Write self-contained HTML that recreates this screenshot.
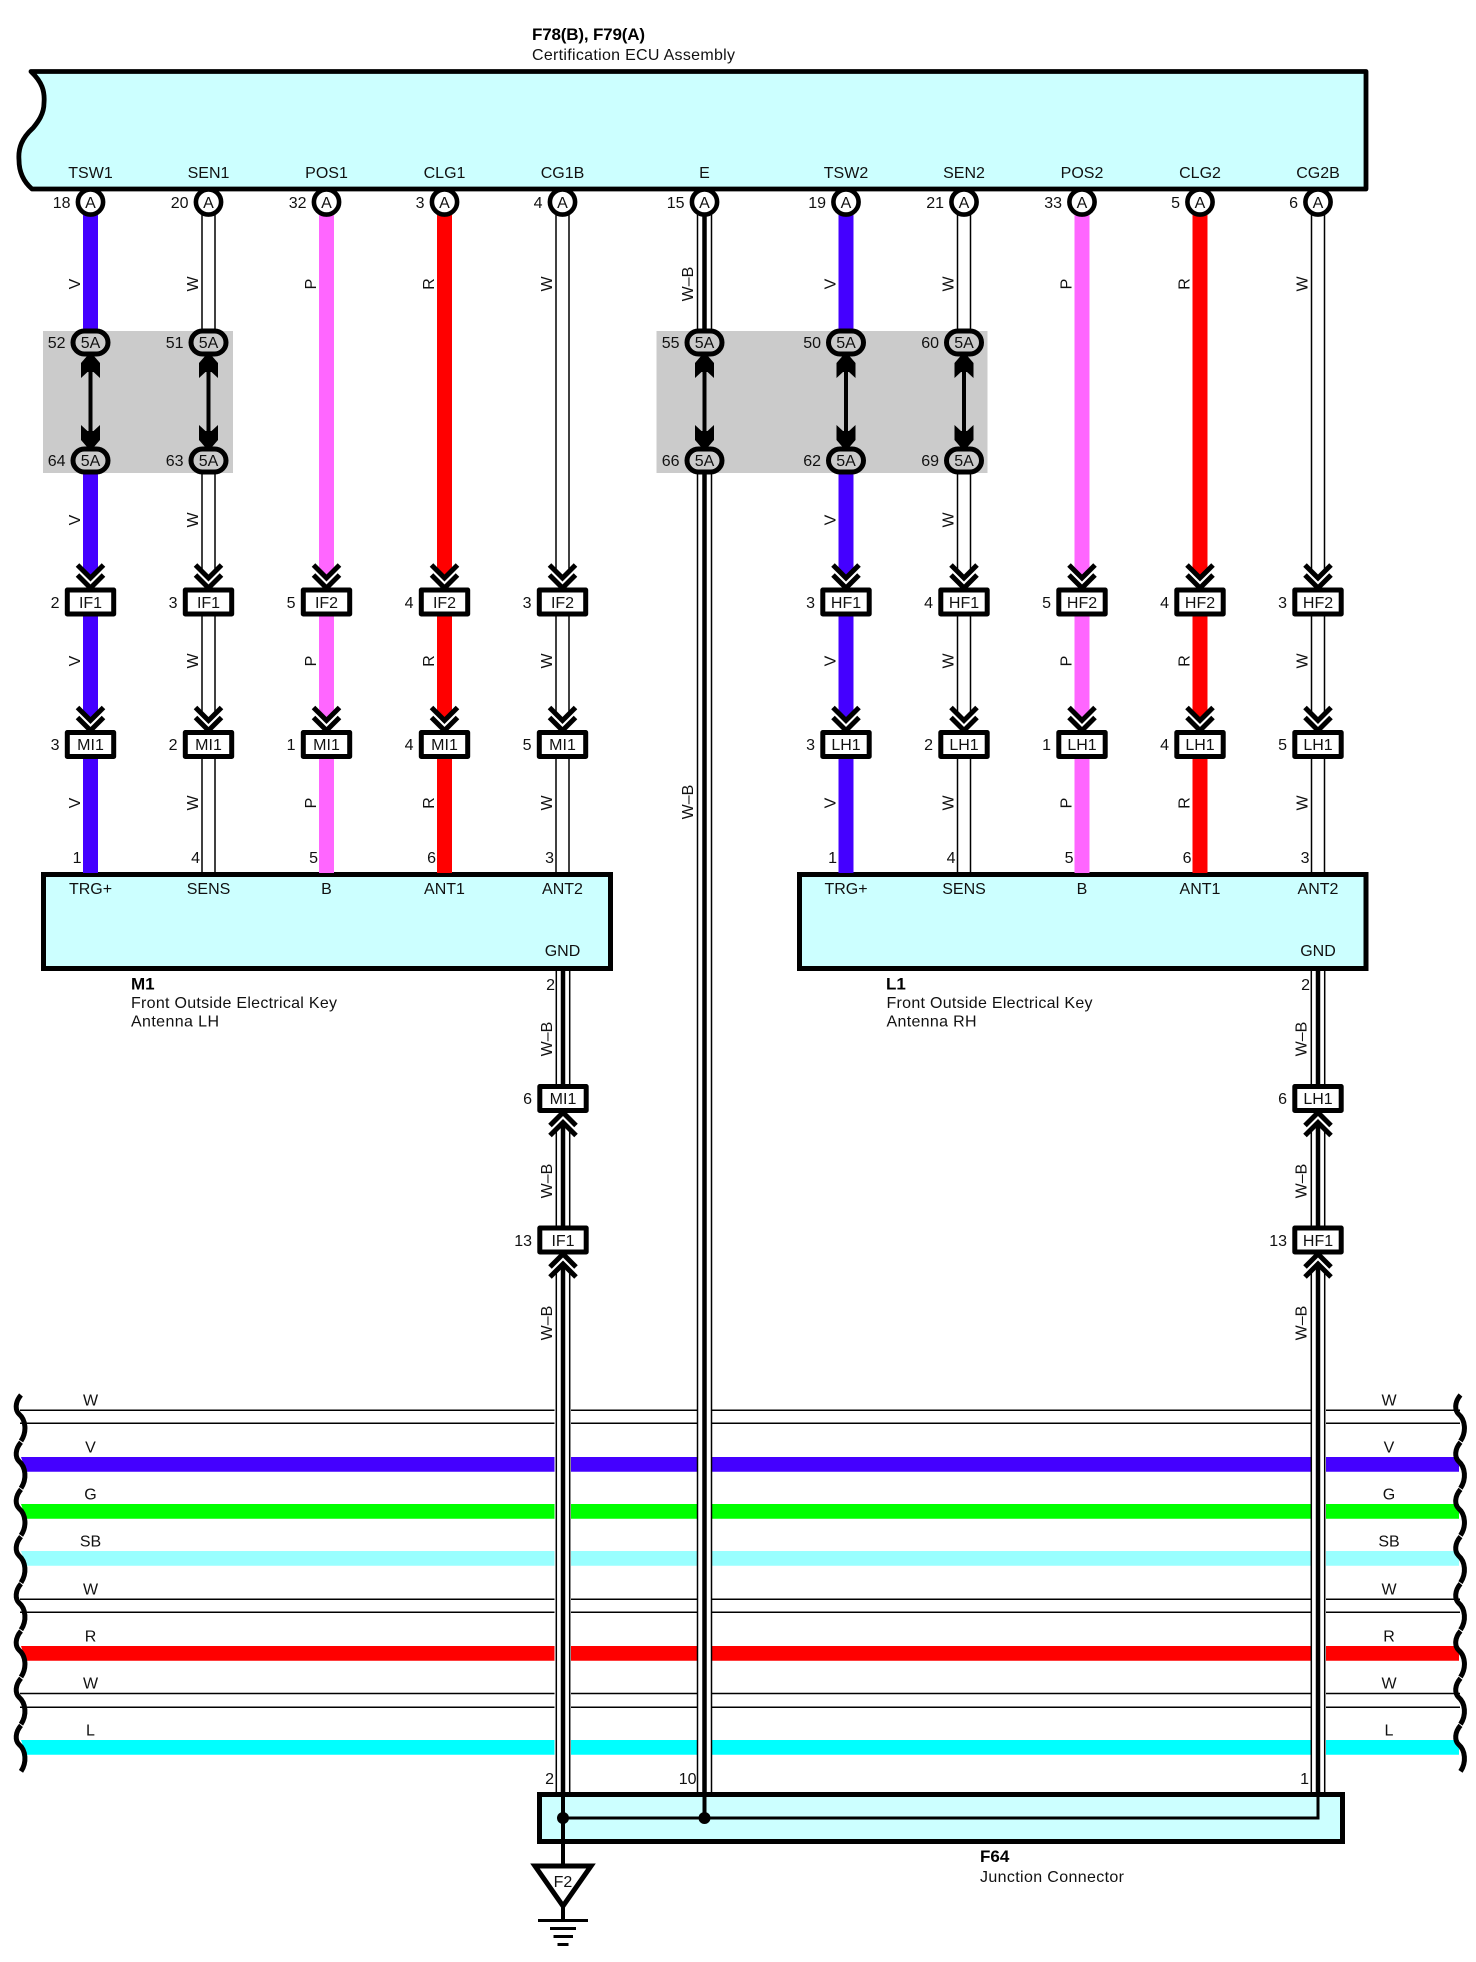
<!DOCTYPE html>
<html lang="en">
<head>
<meta charset="utf-8">
<title>Certification ECU Assembly wiring diagram</title>
<style>
html,body{margin:0;padding:0;background:#fff;width:1476px;height:1962px;overflow:hidden}
svg{display:block}
text{font-family:"Liberation Sans",sans-serif;font-size:16px;fill:#111}
.m{text-anchor:middle}
.e{text-anchor:end}
.b{font-weight:bold;fill:#000;font-size:17px}
.k{fill:none;stroke:#000}
</style>
</head>
<body>
<svg xmlns="http://www.w3.org/2000/svg" width="1476" height="1962" viewBox="0 0 1476 1962">
<defs>
<g id="pin"><circle cy="202" r="12.6" fill="#fff" stroke="#000" stroke-width="4.6"/></g>
<g id="conn"><rect x="-23.2" y="-12" width="46.4" height="24" fill="#fff" stroke="#000" stroke-width="5" stroke-linejoin="round"/></g>
<g id="chd"><path d="M-13 -34 L0 -21 L13 -34 V-14 H-13Z" fill="#fff"/><path d="M-13 -37 L0 -24 L13 -37 M-13 -27 L0 -14 L13 -27" fill="none" stroke="#000" stroke-width="5"/></g>
<g id="chu"><path d="M-13 34 L0 21 L13 34 V14 H-13Z" fill="#fff"/><path d="M-13 27 L0 14 L13 27 M-13 37 L0 24 L13 37" fill="none" stroke="#000" stroke-width="5"/></g>
<g id="link">
<rect x="-2" y="357" width="4" height="90" fill="#000"/>
<path d="M0 352 L9.5 363 L9.5 378 L3 372 L-3 372 L-9.500 378 L-9.500 363 Z" fill="#000"/>
<path d="M0 451 L9.5 440 L9.5 425 L3 431 L-3 431 L-9.500 425 L-9.500 440 Z" fill="#000"/>
<rect x="-17.5" y="331" width="35" height="23" rx="11.5" fill="#cbcbcb" stroke="#000" stroke-width="5"/>
<rect x="-17.5" y="449" width="35" height="23" rx="11.5" fill="#cbcbcb" stroke="#000" stroke-width="5"/>
</g>
<g id="cw">
<path d="M-6.5 215V329M6.5 215V329M-6.5 472V873M6.5 472V873" class="k" stroke-width="1.5"/>
</g>
<g id="cwf"><path d="M-6.5 215V873M6.5 215V873" class="k" stroke-width="1.5"/></g>
<g id="sq"><path d="M21 1395 C15 1402 15 1410 19 1414 C26 1420 27 1432 21 1441" fill="none" stroke="#000" stroke-width="5"/></g>
</defs>

<rect width="1476" height="1962" fill="#fff"/>

<!-- grey shields -->
<rect x="43" y="331" width="190" height="142" fill="#cbcbcb"/>
<rect x="656.500" y="331" width="331" height="142" fill="#cbcbcb"/>

<!-- horizontal wires -->
<g>
<path d="M20 1410.300H1460M20 1423.300H1460M20 1599.300H1460M20 1612.300H1460M20 1693.500H1460M20 1707.300H1460" class="k" stroke-width="1.5"/>
<path d="M21 1457H1459V1471.700H26Z" fill="#4400ff"/>
<path d="M21 1504H1459V1518.700H26Z" fill="#00ff00"/>
<path d="M21 1551H1459V1565.700H26Z" fill="#99ffff"/>
<path d="M21 1646H1459V1660.700H26Z" fill="#ff0000"/>
<path d="M21 1740H1459V1754.700H26Z" fill="#00ffff"/>
<rect x="554.500" y="1400" width="16.500" height="365" fill="#fff"/>
<rect x="697" y="1400" width="15" height="365" fill="#fff"/>
<rect x="1311" y="1400" width="15" height="365" fill="#fff"/>
</g>
<g>
<use href="#sq"/><use href="#sq" y="47.200"/><use href="#sq" y="94.400"/><use href="#sq" y="141.600"/><use href="#sq" y="188.800"/><use href="#sq" y="236"/><use href="#sq" y="283.200"/><use href="#sq" y="330.400"/>
<g transform="translate(1439.500 0)"><use href="#sq"/><use href="#sq" y="47.200"/><use href="#sq" y="94.400"/><use href="#sq" y="141.600"/><use href="#sq" y="188.800"/><use href="#sq" y="236"/><use href="#sq" y="283.200"/><use href="#sq" y="330.400"/></g>
</g>
<g class="m">
<text x="90.500" y="1405.500">W</text><text x="90.500" y="1452.500">V</text><text x="90.500" y="1499.500">G</text><text x="90.500" y="1546.500">SB</text><text x="90.500" y="1594.500">W</text><text x="90.500" y="1641.500">R</text><text x="90.500" y="1688.500">W</text><text x="90.500" y="1735.500">L</text>
<text x="1389" y="1405.500">W</text><text x="1389" y="1452.500">V</text><text x="1389" y="1499.500">G</text><text x="1389" y="1546.500">SB</text><text x="1389" y="1594.500">W</text><text x="1389" y="1641.500">R</text><text x="1389" y="1688.500">W</text><text x="1389" y="1735.500">L</text>
</g>

<!-- main ECU box -->
<path d="M31 71.500 C42 82 45 91 44 103 C44 114 38 122 33 128 C22 138 18 148 19 160 C19 172 24 182 32 189 L1366 189 L1366 71.500 Z" fill="#ccffff" stroke="#000" stroke-width="4.800" stroke-linejoin="round"/>
<text class="b" x="532" y="40" textLength="113" lengthAdjust="spacing">F78(B), F79(A)</text>
<text x="532" y="60" textLength="203" lengthAdjust="spacing">Certification ECU Assembly</text>

<!-- antenna boxes -->
<rect x="43.500" y="874.500" width="567" height="94" fill="#ccffff" stroke="#000" stroke-width="5"/>
<rect x="799.500" y="874.500" width="566.500" height="94" fill="#ccffff" stroke="#000" stroke-width="5"/>

<!-- column 1 -->
<g transform="translate(90.500 0)">
<rect x="-7.500" y="215" width="15" height="114" fill="#4400ff"/><rect x="-7.500" y="472" width="15" height="401" fill="#4400ff"/>
<use href="#pin"/><use href="#link"/>
<use href="#chd" y="602"/><use href="#conn" y="602"/><use href="#chd" y="744.500"/><use href="#conn" y="744.500"/>
<text class="m" y="178">TSW1</text><text class="m" y="208">A</text><text class="e" x="-20" y="208">18</text>
<text class="m" y="348">5A</text><text class="m" y="466">5A</text><text class="e" x="-25" y="348">52</text><text class="e" x="-25" y="466">64</text>
<text class="m" y="608">IF1</text><text class="e" x="-31" y="608">2</text>
<text class="m" y="750">MI1</text><text class="e" x="-31" y="750">3</text>
<text class="e" x="-9" y="863">1</text><text class="m" y="894">TRG+</text>
<text class="m" transform="translate(-10.500 284) rotate(-90)">V</text>
<text class="m" transform="translate(-10.500 520) rotate(-90)">V</text>
<text class="m" transform="translate(-10.500 661) rotate(-90)">V</text>
<text class="m" transform="translate(-10.500 803) rotate(-90)">V</text>
</g>

<!-- column 2 -->
<g transform="translate(208.500 0)">
<use href="#cw"/>
<use href="#pin"/><use href="#link"/>
<use href="#chd" y="602"/><use href="#conn" y="602"/><use href="#chd" y="744.500"/><use href="#conn" y="744.500"/>
<text class="m" y="178">SEN1</text><text class="m" y="208">A</text><text class="e" x="-20" y="208">20</text>
<text class="m" y="348">5A</text><text class="m" y="466">5A</text><text class="e" x="-25" y="348">51</text><text class="e" x="-25" y="466">63</text>
<text class="m" y="608">IF1</text><text class="e" x="-31" y="608">3</text>
<text class="m" y="750">MI1</text><text class="e" x="-31" y="750">2</text>
<text class="e" x="-8.500" y="863">4</text><text class="m" y="894">SENS</text>
<text class="m" transform="translate(-10.500 284) rotate(-90)">W</text>
<text class="m" transform="translate(-10.500 520) rotate(-90)">W</text>
<text class="m" transform="translate(-10.500 661) rotate(-90)">W</text>
<text class="m" transform="translate(-10.500 803) rotate(-90)">W</text>
</g>

<!-- column 3 -->
<g transform="translate(326.500 0)">
<rect x="-7.500" y="215" width="15" height="658" fill="#ff66ff"/>
<use href="#pin"/>
<use href="#chd" y="602"/><use href="#conn" y="602"/><use href="#chd" y="744.500"/><use href="#conn" y="744.500"/>
<text class="m" y="178">POS1</text><text class="m" y="208">A</text><text class="e" x="-20" y="208">32</text>
<text class="m" y="608">IF2</text><text class="e" x="-31" y="608">5</text>
<text class="m" y="750">MI1</text><text class="e" x="-31" y="750">1</text>
<text class="e" x="-8.500" y="863">5</text><text class="m" y="894">B</text>
<text class="m" transform="translate(-10.500 284) rotate(-90)">P</text>
<text class="m" transform="translate(-10.500 661) rotate(-90)">P</text>
<text class="m" transform="translate(-10.500 803) rotate(-90)">P</text>
</g>

<!-- column 4 -->
<g transform="translate(444.500 0)">
<rect x="-7.500" y="215" width="15" height="658" fill="#ff0000"/>
<use href="#pin"/>
<use href="#chd" y="602"/><use href="#conn" y="602"/><use href="#chd" y="744.500"/><use href="#conn" y="744.500"/>
<text class="m" y="178">CLG1</text><text class="m" y="208">A</text><text class="e" x="-20" y="208">3</text>
<text class="m" y="608">IF2</text><text class="e" x="-31" y="608">4</text>
<text class="m" y="750">MI1</text><text class="e" x="-31" y="750">4</text>
<text class="e" x="-8.500" y="863">6</text><text class="m" y="894">ANT1</text>
<text class="m" transform="translate(-10.500 284) rotate(-90)">R</text>
<text class="m" transform="translate(-10.500 661) rotate(-90)">R</text>
<text class="m" transform="translate(-10.500 803) rotate(-90)">R</text>
</g>

<!-- column 5 -->
<g transform="translate(562.500 0)">
<use href="#cwf"/>
<use href="#pin"/>
<use href="#chd" y="602"/><use href="#conn" y="602"/><use href="#chd" y="744.500"/><use href="#conn" y="744.500"/>
<text class="m" y="178">CG1B</text><text class="m" y="208">A</text><text class="e" x="-20" y="208">4</text>
<text class="m" y="608">IF2</text><text class="e" x="-31" y="608">3</text>
<text class="m" y="750">MI1</text><text class="e" x="-31" y="750">5</text>
<text class="e" x="-8.500" y="863">3</text><text class="m" y="894">ANT2</text><text class="m" y="956">GND</text>
<text class="m" transform="translate(-10.500 284) rotate(-90)">W</text>
<text class="m" transform="translate(-10.500 661) rotate(-90)">W</text>
<text class="m" transform="translate(-10.500 803) rotate(-90)">W</text>
</g>

<!-- E column -->
<g transform="translate(704.500 0)">
<path d="M-7 215V329M7 215V329M-7 472V1792M7 472V1792" class="k" stroke-width="1.500"/>
<path d="M0 215V329M0 472V1792" class="k" stroke-width="4.500"/>
<use href="#pin"/><use href="#link"/>
<text class="m" y="178">E</text><text class="m" y="208">A</text><text class="e" x="-20" y="208">15</text>
<text class="m" y="348">5A</text><text class="m" y="466">5A</text><text class="e" x="-25" y="348">55</text><text class="e" x="-25" y="466">66</text>
<text class="m" transform="translate(-11.500 284) rotate(-90)">W–B</text>
<text class="m" transform="translate(-11.500 802) rotate(-90)">W–B</text>
<text class="e" x="-8" y="1784">10</text>
</g>

<!-- column 7 -->
<g transform="translate(846 0)">
<rect x="-7.500" y="215" width="15" height="114" fill="#4400ff"/><rect x="-7.500" y="472" width="15" height="401" fill="#4400ff"/>
<use href="#pin"/><use href="#link"/>
<use href="#chd" y="602"/><use href="#conn" y="602"/><use href="#chd" y="744.500"/><use href="#conn" y="744.500"/>
<text class="m" y="178">TSW2</text><text class="m" y="208">A</text><text class="e" x="-20" y="208">19</text>
<text class="m" y="348">5A</text><text class="m" y="466">5A</text><text class="e" x="-25" y="348">50</text><text class="e" x="-25" y="466">62</text>
<text class="m" y="608">HF1</text><text class="e" x="-31" y="608">3</text>
<text class="m" y="750">LH1</text><text class="e" x="-31" y="750">3</text>
<text class="e" x="-9" y="863">1</text><text class="m" y="894">TRG+</text>
<text class="m" transform="translate(-10.500 284) rotate(-90)">V</text>
<text class="m" transform="translate(-10.500 520) rotate(-90)">V</text>
<text class="m" transform="translate(-10.500 661) rotate(-90)">V</text>
<text class="m" transform="translate(-10.500 803) rotate(-90)">V</text>
</g>

<!-- column 8 -->
<g transform="translate(964 0)">
<use href="#cw"/>
<use href="#pin"/><use href="#link"/>
<use href="#chd" y="602"/><use href="#conn" y="602"/><use href="#chd" y="744.500"/><use href="#conn" y="744.500"/>
<text class="m" y="178">SEN2</text><text class="m" y="208">A</text><text class="e" x="-20" y="208">21</text>
<text class="m" y="348">5A</text><text class="m" y="466">5A</text><text class="e" x="-25" y="348">60</text><text class="e" x="-25" y="466">69</text>
<text class="m" y="608">HF1</text><text class="e" x="-31" y="608">4</text>
<text class="m" y="750">LH1</text><text class="e" x="-31" y="750">2</text>
<text class="e" x="-8.500" y="863">4</text><text class="m" y="894">SENS</text>
<text class="m" transform="translate(-10.500 284) rotate(-90)">W</text>
<text class="m" transform="translate(-10.500 520) rotate(-90)">W</text>
<text class="m" transform="translate(-10.500 661) rotate(-90)">W</text>
<text class="m" transform="translate(-10.500 803) rotate(-90)">W</text>
</g>

<!-- column 9 -->
<g transform="translate(1082 0)">
<rect x="-7.500" y="215" width="15" height="658" fill="#ff66ff"/>
<use href="#pin"/>
<use href="#chd" y="602"/><use href="#conn" y="602"/><use href="#chd" y="744.500"/><use href="#conn" y="744.500"/>
<text class="m" y="178">POS2</text><text class="m" y="208">A</text><text class="e" x="-20" y="208">33</text>
<text class="m" y="608">HF2</text><text class="e" x="-31" y="608">5</text>
<text class="m" y="750">LH1</text><text class="e" x="-31" y="750">1</text>
<text class="e" x="-8.500" y="863">5</text><text class="m" y="894">B</text>
<text class="m" transform="translate(-10.500 284) rotate(-90)">P</text>
<text class="m" transform="translate(-10.500 661) rotate(-90)">P</text>
<text class="m" transform="translate(-10.500 803) rotate(-90)">P</text>
</g>

<!-- column 10 -->
<g transform="translate(1200 0)">
<rect x="-7.500" y="215" width="15" height="658" fill="#ff0000"/>
<use href="#pin"/>
<use href="#chd" y="602"/><use href="#conn" y="602"/><use href="#chd" y="744.500"/><use href="#conn" y="744.500"/>
<text class="m" y="178">CLG2</text><text class="m" y="208">A</text><text class="e" x="-20" y="208">5</text>
<text class="m" y="608">HF2</text><text class="e" x="-31" y="608">4</text>
<text class="m" y="750">LH1</text><text class="e" x="-31" y="750">4</text>
<text class="e" x="-8.500" y="863">6</text><text class="m" y="894">ANT1</text>
<text class="m" transform="translate(-10.500 284) rotate(-90)">R</text>
<text class="m" transform="translate(-10.500 661) rotate(-90)">R</text>
<text class="m" transform="translate(-10.500 803) rotate(-90)">R</text>
</g>

<!-- column 11 -->
<g transform="translate(1318 0)">
<use href="#cwf"/>
<use href="#pin"/>
<use href="#chd" y="602"/><use href="#conn" y="602"/><use href="#chd" y="744.500"/><use href="#conn" y="744.500"/>
<text class="m" y="178">CG2B</text><text class="m" y="208">A</text><text class="e" x="-20" y="208">6</text>
<text class="m" y="608">HF2</text><text class="e" x="-31" y="608">3</text>
<text class="m" y="750">LH1</text><text class="e" x="-31" y="750">5</text>
<text class="e" x="-8.500" y="863">3</text><text class="m" y="894">ANT2</text><text class="m" y="956">GND</text>
<text class="m" transform="translate(-10.500 284) rotate(-90)">W</text>
<text class="m" transform="translate(-10.500 661) rotate(-90)">W</text>
<text class="m" transform="translate(-10.500 803) rotate(-90)">W</text>
</g>

<!-- antenna captions -->
<text class="b" x="131" y="989.500">M1</text>
<text x="131" y="1008" textLength="206" lengthAdjust="spacing">Front Outside Electrical Key</text>
<text x="131" y="1026.500" textLength="88" lengthAdjust="spacing">Antenna LH</text>
<text class="b" x="886" y="989.500">L1</text>
<text x="886.500" y="1008" textLength="206" lengthAdjust="spacing">Front Outside Electrical Key</text>
<text x="886.500" y="1026.500" textLength="90" lengthAdjust="spacing">Antenna RH</text>

<!-- ground wires -->
<g transform="translate(563 0)">
<path d="M-6.700 971V1792M6.700 971V1792" class="k" stroke-width="1.500"/>
<path d="M0 971V1792" class="k" stroke-width="4.500"/>
<use href="#chu" y="1098.500"/><use href="#conn" y="1098.500"/>
<use href="#chu" y="1240"/><use href="#conn" y="1240"/>
<text class="e" x="-8" y="990">2</text>
<text class="m" y="1104">MI1</text><text class="e" x="-31" y="1104">6</text>
<text class="m" y="1246">IF1</text><text class="e" x="-31" y="1246">13</text>
<text class="m" transform="translate(-11 1039) rotate(-90)">W–B</text>
<text class="m" transform="translate(-11 1181) rotate(-90)">W–B</text>
<text class="m" transform="translate(-11 1323) rotate(-90)">W–B</text>
<text class="e" x="-9" y="1784">2</text>
</g>
<g transform="translate(1318 0)">
<path d="M-6.700 971V1792M6.700 971V1792" class="k" stroke-width="1.500"/>
<path d="M0 971V1792" class="k" stroke-width="4.500"/>
<use href="#chu" y="1098.500"/><use href="#conn" y="1098.500"/>
<use href="#chu" y="1240"/><use href="#conn" y="1240"/>
<text class="e" x="-8" y="990">2</text>
<text class="m" y="1104">LH1</text><text class="e" x="-31" y="1104">6</text>
<text class="m" y="1246">HF1</text><text class="e" x="-31" y="1246">13</text>
<text class="m" transform="translate(-11.500 1039) rotate(-90)">W–B</text>
<text class="m" transform="translate(-11.500 1181) rotate(-90)">W–B</text>
<text class="m" transform="translate(-11.500 1323) rotate(-90)">W–B</text>
<text class="e" x="-9" y="1784">1</text>
</g>

<!-- junction connector -->
<rect x="539.500" y="1794.500" width="803" height="47" fill="#ccffff" stroke="#000" stroke-width="5"/>
<path d="M563 1792V1866M704.500 1792V1818" class="k" stroke-width="4"/>
<path d="M563 1818H1318V1792" class="k" stroke-width="3"/>
<circle cx="563" cy="1818" r="6" fill="#000"/>
<circle cx="704.500" cy="1818" r="6" fill="#000"/>
<text class="b" x="980" y="1862">F64</text>
<text x="980" y="1882" textLength="144" lengthAdjust="spacing">Junction Connector</text>

<!-- ground symbol -->
<path d="M535 1866H591L563 1906Z" fill="#fff" stroke="#000" stroke-width="5" stroke-linejoin="miter"/>
<path d="M563 1906V1920" class="k" stroke-width="4"/>
<path d="M538 1920.500H588M550 1928.500H576M553.500 1936.500H573M557.500 1944.500H568.500" class="k" stroke-width="3"/>
<text class="m" x="563" y="1887">F2</text>
</svg>
</body>
</html>
